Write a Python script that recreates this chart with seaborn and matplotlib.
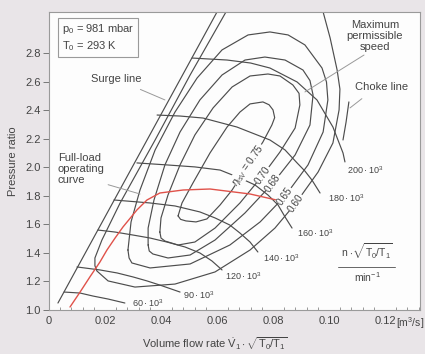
import numpy as np
import pandas as pd
import matplotlib
matplotlib.use("Agg")
import matplotlib.pyplot as plt
import seaborn as sns

# ---------------- data ----------------
# surge line
surge_x = [0.0032, 0.0600]
surge_y = [1.049, 3.091]

# constant corrected-speed lines (n*sqrt(T0/T1), min^-1)
speed_labels = ["60\u2009·\u200910$^3$", "90\u2009·\u200910$^3$", "120\u2009·\u200910$^3$",
                "140\u2009·\u200910$^3$", "160\u2009·\u200910$^3$", "180\u2009·\u200910$^3$",
                "200\u2009·\u200910$^3$"]
sp60_x = [0.0054, 0.0111, 0.0157, 0.0211, 0.0271]
sp60_y = [1.126, 1.119, 1.098, 1.077, 1.049]
sp90_x = [0.0100, 0.0182, 0.0243, 0.0300, 0.0350, 0.0396, 0.0468]
sp90_y = [1.302, 1.281, 1.260, 1.232, 1.204, 1.175, 1.126]
sp120_x = [0.0175, 0.0236, 0.0300, 0.0361, 0.0421, 0.0486, 0.0539, 0.0582, 0.0618]
sp120_y = [1.561, 1.547, 1.526, 1.505, 1.477, 1.442, 1.400, 1.344, 1.281]
sp140_x = [0.0232, 0.0361, 0.0450, 0.0539, 0.0593, 0.0646, 0.0682, 0.0718, 0.0746]
sp140_y = [1.772, 1.751, 1.730, 1.688, 1.646, 1.596, 1.540, 1.477, 1.407]
sp160_x = [0.0314, 0.0421, 0.0521, 0.0611, 0.0682, 0.0736, 0.0782, 0.0818, 0.0843, 0.0868]
sp160_y = [2.032, 2.018, 2.004, 1.982, 1.926, 1.877, 1.807, 1.737, 1.653, 1.575]
sp180_x = [0.0386, 0.0468, 0.0550, 0.0671, 0.0789, 0.0843, 0.0886, 0.0914, 0.0939, 0.0968]
sp180_y = [2.368, 2.361, 2.347, 2.284, 2.193, 2.123, 2.032, 1.975, 1.912, 1.821]
sp200_x = [0.0511, 0.0636, 0.0720, 0.0789, 0.0886, 0.0957, 0.1014, 0.1050, 0.1057]
sp200_y = [2.768, 2.754, 2.733, 2.698, 2.600, 2.474, 2.284, 2.102, 2.039]
speed_label_x = [0.0296, 0.0479, 0.0629, 0.0764, 0.0886, 0.0996, 0.1064]
speed_label_y = [1.049, 1.105, 1.239, 1.365, 1.540, 1.786, 1.982]

# efficiency islands
eff_labels = ["$\\eta_{\\mathrm{isV}}$ = 0.75", "0.70", "0.68", "0.65", "0.60"]
e75_x = [0.0461, 0.0470, 0.0489, 0.0525, 0.0564, 0.0611, 0.0654, 0.0711, 0.0764, 0.0796,
         0.0806, 0.0800, 0.0786, 0.0764, 0.0718, 0.0682, 0.0636, 0.0575, 0.0514, 0.0475,
         0.0461]
e75_y = [1.660, 1.636, 1.625, 1.618, 1.639, 1.737, 1.842, 2.018, 2.179, 2.298,
         2.350, 2.404, 2.440, 2.460, 2.446, 2.389, 2.284, 2.102, 1.891, 1.751,
         1.660]
e70_x = [0.0396, 0.0400, 0.0414, 0.0461, 0.0521, 0.0593, 0.0682, 0.0764, 0.0825, 0.0879,
         0.0896, 0.0893, 0.0871, 0.0825, 0.0782, 0.0718, 0.0654, 0.0586, 0.0521, 0.0468,
         0.0425, 0.0400, 0.0396]
e70_y = [1.547, 1.505, 1.484, 1.456, 1.477, 1.575, 1.751, 1.947, 2.109, 2.277,
         2.439, 2.520, 2.579, 2.642, 2.656, 2.642, 2.565, 2.418, 2.228, 2.018,
         1.807, 1.646, 1.547]
e68_x = [0.0354, 0.0358, 0.0371, 0.0425, 0.0504, 0.0593, 0.0700, 0.0800, 0.0879, 0.0932,
         0.0943, 0.0932, 0.0907, 0.0843, 0.0771, 0.0700, 0.0618, 0.0539, 0.0468, 0.0414,
         0.0375, 0.0354, 0.0354]
e68_y = [1.456, 1.414, 1.393, 1.365, 1.386, 1.491, 1.681, 1.891, 2.088, 2.298,
         2.509, 2.610, 2.684, 2.754, 2.775, 2.754, 2.649, 2.474, 2.249, 2.018,
         1.772, 1.575, 1.456]
e65_x = [0.0282, 0.0286, 0.0296, 0.0361, 0.0504, 0.0646, 0.0754, 0.0843, 0.0925, 0.0979,
         0.0996, 0.0991, 0.0975, 0.0914, 0.0854, 0.0789, 0.0711, 0.0618, 0.0529, 0.0450,
         0.0379, 0.0325, 0.0293, 0.0282]
e65_y = [1.421, 1.365, 1.330, 1.295, 1.323, 1.456, 1.618, 1.800, 2.018, 2.249,
         2.474, 2.600, 2.698, 2.860, 2.930, 2.951, 2.930, 2.825, 2.628, 2.389,
         2.123, 1.842, 1.618, 1.421]
e60_x = [0.0632, 0.0504, 0.0379, 0.0254, 0.0189, 0.0164, 0.0164, 0.0171, 0.0211, 0.0307,
         0.0450, 0.0593, 0.0718, 0.0807, 0.0882, 0.0961, 0.1014, 0.1036, 0.1039, 0.1029,
         0.1004, 0.0979]
e60_y = [3.091, 2.649, 2.193, 1.751, 1.491, 1.365, 1.310, 1.274, 1.204, 1.161,
         1.182, 1.267, 1.421, 1.575, 1.751, 1.968, 2.172, 2.404, 2.550, 2.684,
         2.909, 3.091]
eff_label_x = [0.0711, 0.0764, 0.0800, 0.0843, 0.0882]
eff_label_y = [2.018, 1.947, 1.891, 1.800, 1.751]

# choke line
choke_x = [0.1071, 0.1061, 0.1050]
choke_y = [2.460, 2.319, 2.193]

# full-load operating curve (red)
full_x = [0.0075, 0.0111, 0.0146, 0.0182, 0.0207, 0.0236, 0.0264, 0.0314, 0.0350, 0.0396,
          0.0479, 0.0575, 0.0718, 0.0843]
full_y = [1.021, 1.126, 1.232, 1.337, 1.421, 1.505, 1.582, 1.702, 1.772, 1.821,
          1.842, 1.849, 1.814, 1.758]

x_ticks = [0, 0.02, 0.04, 0.06, 0.08, 0.10, 0.12]
x_ticklabels = ["0", "0.02", "0.04", "0.06", "0.08", "0.10", "0.12"]
y_ticks = [1.0, 1.2, 1.4, 1.6, 1.8, 2.0, 2.2, 2.4, 2.6, 2.8]
y_ticklabels = ["1.0", "1.2", "1.4", "1.6", "1.8", "2.0", "2.2", "2.4", "2.6", "2.8"]

# ---------------- build long table ----------------
curves = {
    "surge": (surge_x, surge_y),
    "n60": (sp60_x, sp60_y), "n90": (sp90_x, sp90_y), "n120": (sp120_x, sp120_y),
    "n140": (sp140_x, sp140_y), "n160": (sp160_x, sp160_y), "n180": (sp180_x, sp180_y),
    "n200": (sp200_x, sp200_y),
    "e75": (e75_x, e75_y), "e70": (e70_x, e70_y), "e68": (e68_x, e68_y),
    "e65": (e65_x, e65_y), "e60": (e60_x, e60_y),
    "choke": (choke_x, choke_y),
}
rows = []
for name, (xs, ys) in curves.items():
    for i, (a, b) in enumerate(zip(xs, ys)):
        rows.append({"curve": name, "order": i, "x": a, "y": b})
df = pd.DataFrame(rows)
df_full = pd.DataFrame({"x": full_x, "y": full_y})

# ---------------- style ----------------
sns.set_theme(style="white")
plt.rcParams["font.family"] = ["Liberation Sans", "DejaVu Sans"]
plt.rcParams["mathtext.fontset"] = "custom"
plt.rcParams["mathtext.rm"] = "Liberation Sans"
plt.rcParams["mathtext.it"] = "Liberation Sans:italic"
plt.rcParams["mathtext.bf"] = "Liberation Sans:bold"
plt.rcParams["lines.solid_joinstyle"] = "round"

TXT = "#444444"
LINE = "#4d4d4d"
fig = plt.figure(figsize=(4.25, 3.54), dpi=100, facecolor="#e9e5e8")
ax = fig.add_axes([49 / 425, 44 / 354, 371 / 425, 298 / 354])
ax.set_facecolor("#fdfdfd")

sns.lineplot(data=df, x="x", y="y", units="curve", estimator=None, sort=False,
             color=LINE, linewidth=0.85, ax=ax, legend=False)
sns.lineplot(data=df_full, x="x", y="y", sort=False, color="#e0524a",
             linewidth=1.0, ax=ax, legend=False)

ax.set_xlim(0, 0.1325)
ax.set_ylim(1.0, 3.091)
ax.set_xlabel("")
ax.set_ylabel("")
ax.set_xticks(x_ticks)
ax.set_xticklabels(x_ticklabels)
ax.set_yticks(y_ticks)
ax.set_yticklabels(y_ticklabels)
ax.set_xticks(np.arange(0, 0.1325, 0.004), minor=True)
ax.tick_params(axis="x", which="major", direction="in", length=4, width=0.7,
               colors="#777777", labelcolor=TXT, labelsize=8, pad=4)
ax.tick_params(axis="x", which="minor", direction="in", length=2.5, width=0.6,
               colors="#888888", bottom=True)
ax.tick_params(axis="y", which="major", direction="out", length=4, width=0.7,
               colors="#777777", labelcolor=TXT, labelsize=8, pad=2, left=True)
for s in ax.spines.values():
    s.set_color("#9a9a9a")
    s.set_linewidth(0.8)

# axis titles
ax.text(-0.097, 0.5, "Pressure ratio", rotation=90, transform=ax.transAxes,
        ha="center", va="center", fontsize=8, color=TXT)
ax.text(0.447, -0.112, r"Volume flow rate $\dot{\mathrm{V}}_1\cdot\sqrt{\mathrm{T}_0/\mathrm{T}_1}$",
        transform=ax.transAxes, ha="center", va="center", fontsize=8, color=TXT)
ax.text(0.935, -0.044, r"[m$^3$/s]", transform=ax.transAxes, ha="left",
        va="center", fontsize=7.5, color=TXT, clip_on=False)

# speed labels
for lab, lx, ly in zip(speed_labels, speed_label_x, speed_label_y):
    ax.text(lx, ly, lab, ha="left", va="center", fontsize=6.5, color=TXT)

# efficiency labels
for lab, lx, ly in zip(eff_labels, eff_label_x, eff_label_y):
    ax.text(lx, ly, lab, ha="center", va="center", rotation=55, fontsize=7.2,
            color=TXT,
            bbox=dict(boxstyle="square,pad=0.03", fc="#fdfdfd", ec="none"))

# condition box
ax.text(0.0046, 2.912, "p$_0$ = 981 mbar\nT$_0$ = 293 K", ha="left", va="center",
        fontsize=8, color=TXT, linespacing=1.3,
        bbox=dict(boxstyle="square,pad=0.35", fc="#fdfdfd", ec="#9a9a9a", lw=0.8))

# annotations with pointers
ax.annotate("Surge line", xy=(0.0414, 2.474), xytext=(0.0239, 2.621),
            ha="center", va="center", fontsize=8, color=TXT,
            arrowprops=dict(arrowstyle="-", color="#999999", lw=0.7,
                            shrinkA=4, shrinkB=0))
ax.annotate("Full-load\noperating\ncurve", xy=(0.0325, 1.814), xytext=(0.0032, 1.989),
            ha="left", va="center", fontsize=8, color=TXT, linespacing=1.1,
            arrowprops=dict(arrowstyle="-", color="#999999", lw=0.7,
                            shrinkA=0, shrinkB=0, relpos=(0.85, 0.1)))
ax.annotate("Maximum\npermissible\nspeed", xy=(0.0914, 2.530), xytext=(0.1164, 2.923),
            ha="center", va="center", fontsize=8, color=TXT, linespacing=1.1,
            arrowprops=dict(arrowstyle="-", color="#999999", lw=0.7,
                            shrinkA=0, shrinkB=0, relpos=(0.4, 0.0)))
ax.annotate("Choke line", xy=(0.1075, 2.418), xytext=(0.1186, 2.565),
            ha="center", va="center", fontsize=8, color=TXT,
            arrowprops=dict(arrowstyle="-", color="#999999", lw=0.7,
                            shrinkA=4, shrinkB=0, relpos=(0.3, 0.0)))

# speed unit fraction
ax.text(0.1136, 1.345, r"n $\cdot\sqrt{\mathrm{T}_0/\mathrm{T}_1}$", ha="center",
        va="bottom", fontsize=7.5, color=TXT)
ax.plot([0.1032, 0.1236], [1.302, 1.302], color="#666666", lw=0.7)
ax.text(0.1136, 1.280, r"min$^{-1}$", ha="center", va="top", fontsize=7.5, color=TXT)

fig.savefig("out.png", dpi=100, facecolor=fig.get_facecolor())
